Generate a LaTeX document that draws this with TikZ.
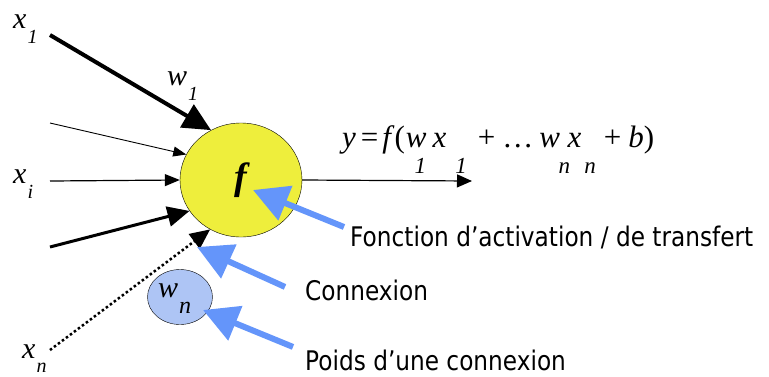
\documentclass[tikz,border=0pt]{standalone}
\usepackage{fontspec}
\setmainfont{Liberation Serif}
\newfontfamily\notefont[FakeStretch=0.86]{DejaVu Sans}
\usetikzlibrary{arrows.meta, positioning, shapes.geometric}
\definecolor{neuronyellow}{HTML}{EEEE3C}
\definecolor{pointerblue}{HTML}{6495FA}
\definecolor{weightblue}{HTML}{AEC5F5}
% letter with a subscript dropped well below it
\newcommand{\idx}[3][15pt]{#2\hspace{1pt}\raisebox{-#1}{\fontsize{20}{20}\selectfont #3}}
\newcommand{\low}[1]{\raisebox{-26pt}{\fontsize{23}{23}\selectfont\itshape #1}}

\begin{document}
\begin{tikzpicture}[x=1pt, y=-1pt,
    inlabel/.style={anchor=base west, inner sep=0pt, font=\fontsize{30}{30}\selectfont\itshape},
    note/.style={anchor=base west, inner sep=0pt, font=\notefont\fontsize{27}{27}\selectfont},
    pointer/.style={pointerblue, line width=6pt, -{Triangle[length=35pt, width=36pt]}},
  ]
  \useasboundingbox (0,0) rectangle (769,376);

  %% neuron and weight
  \node[ellipse, draw, thin, fill=neuronyellow, minimum width=122pt, minimum height=114pt,
        inner sep=0pt, font=\fontsize{38}{38}\selectfont\bfseries\itshape] (neuron) at (241,180) {f};
  \node[ellipse, draw, thin, fill=weightblue, minimum width=65pt, minimum height=55pt,
        inner sep=0pt] (weight) at (180,297) {};
  \node[anchor=base west, inner sep=0pt, font=\fontsize{30}{30}\selectfont\itshape] (wn)
    at (158,297) {w\hspace{1pt}\raisebox{-16pt}{\fontsize{24}{24}\selectfont n}};

  %% input labels
  \node[inlabel] (x1) at (13,28)  {\idx{x}{1}};
  \node[inlabel] (xi) at (13,183) {\idx{x}{i}};
  \node[inlabel] (xn) at (22,358) {\idx[14pt]{x}{n}};
  \node[inlabel] (w1) at (167,85) {\idx{w}{1}};

  %% input connections
  \coordinate (in1) at (50,35);
  \coordinate (in2) at (50,123);
  \coordinate (in3) at (50,181);
  \coordinate (in4) at (50,247);
  \coordinate (in5) at (50,350);
  \draw[line width=4pt, -{Triangle[length=28pt, width=26pt]}] (in1) -- (neuron.121);
  \draw[line width=0.9pt, -{Triangle[length=13pt, width=10pt]}] (in2) -- (neuron.155);
  \draw[line width=1.2pt, -{Triangle[length=15pt, width=12pt]}] (in3) -- (neuron.west);
  \draw[line width=3pt, -{Triangle[length=22pt, width=20pt]}] (in4) -- (neuron.211);
  \draw[line width=2.5pt, dash pattern=on 2.5pt off 2.5pt, -{Triangle[length=20pt, width=18pt]}]
    (in5) -- (neuron.238);

  %% output
  \coordinate (out) at (472,181);
  \draw[line width=1.2pt, -{Triangle[length=15pt, width=13pt]}] (neuron.east) -- (out);
  \node[anchor=base west, inner sep=0pt, font=\fontsize{31}{31}\selectfont] (formula) at (342,147)
    {\textit{y}\hspace{5pt}=\hspace{4pt}\textit{f}(\hspace{1pt}\textit{w}\hspace{-12pt}\low{1}%
     \hspace{6.5pt}\textit{x}\hspace{9pt}\low{1}\hspace{11pt}+\hspace{7pt}\dots\hspace{6pt}%
     \textit{w}\hspace{-1.5pt}\low{n}\hspace{-2.5pt}\textit{x}\hspace{3pt}\low{n}\hspace{8pt}+%
     \hspace{7pt}\textit{b})};

  %% notes
  \node[note] (actnote) at (350,246) {Fonction d’activation / de transfert};
  \node[note] (connote) at (305,300) {Connexion};
  \node[note] (wnote)   at (305,370) {Poids d’une connexion};

  \coordinate (ftip) at (253,190);
  \coordinate (ctip) at (197,247);
  \coordinate (wtip) at (203,310);
  \draw[pointer] (actnote.west) ++(-6,-10) -- (ftip);
  \draw[pointer] (connote.west) ++(-20,-3) -- (ctip);
  \draw[pointer] (wnote.west) ++(-12,-13) -- (wtip);
\end{tikzpicture}
\end{document}
